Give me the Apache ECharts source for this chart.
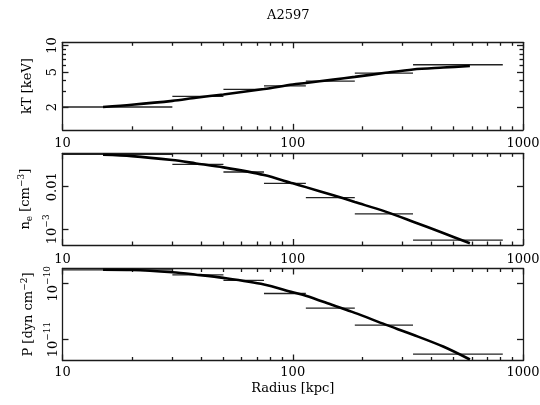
<!DOCTYPE html>
<html>
<head>
<meta charset="utf-8">
<script src="https://cdn.jsdelivr.net/npm/echarts@6/dist/echarts.min.js"></script>
<style>
html,body{margin:0;padding:0;background:#fff;}
#c{width:540px;height:405px;}
</style>
</head>
<body>
<div id="c"></div>
<script>
// ---- data ----
const titleText = 'A2597';
const binLo = [10, 30, 50, 75, 114, 186, 333];
const binHi = [30, 50, 75, 114, 186, 333, 817];
const kT = [2.0, 2.64, 3.18, 3.47, 3.95, 4.87, 6.05];
const ne = [0.0573, 0.0333, 0.0221, 0.0120, 0.00552, 0.00229, 0.00056];
const P = [1.77e-10, 1.44e-10, 1.15e-10, 6.67e-11, 3.66e-11, 1.82e-11, 5.5e-12];

const modelR  = [15, 20, 30, 38, 50, 75, 100, 114, 150, 186, 253, 333, 450, 588];
const modelKT = [2.0, 2.12, 2.35, 2.55, 2.78, 3.2, 3.6, 3.75, 4.1, 4.4, 4.9, 5.35, 5.62, 5.85];
const modelNe = [0.0562, 0.0523, 0.0422, 0.0352, 0.0284, 0.0188, 0.0120, 0.00977, 0.0063, 0.00437, 0.0026, 0.00151, 0.00082, 0.00047];
const modelP  = [1.78e-10, 1.76e-10, 1.60e-10, 1.45e-10, 1.27e-10, 9.7e-11, 7.0e-11, 6.1e-11, 4.1e-11, 3.0e-11, 1.85e-11, 1.22e-11, 7.5e-12, 4.4e-12];

const xMajor = [10, 100, 1000];
const xMinor = [20, 30, 40, 50, 60, 70, 80, 90, 200, 300, 400, 500, 600, 700, 800, 900];
const kTMajor = [2, 5, 10];
const kTMinor = [3, 4, 6, 7, 8, 9];
const neMajor = [0.001, 0.01];
const pMajor = [1e-11, 1e-10];
const xAxisTitle = 'Radius [kpc]';

// ---- layout / style ----
const FONT = 'DejaVu Serif';
const frameColor = '#1a1a1a';
const grids = [
  {left: 62.5, top: 42.3, width: 460.5, height: 87.5},
  {left: 62.5, top: 153.3, width: 460.5, height: 91.7},
  {left: 62.5, top: 268.5, width: 460.5, height: 92}
];
const yRanges = [[1.1, 10.9], [4.28e-4, 0.0608], [4.22e-12, 1.87e-10]];
const xLabelMargin = [7.5, 8, 6];
const yNameGap = [26, 23, 23];

const rich = {
  b: {fontFamily: FONT, fontSize: 13, color: '#000', lineHeight: 17, verticalAlign: 'bottom'},
  s: {fontFamily: FONT, fontSize: 9, color: '#000', lineHeight: 9, verticalAlign: 'top'}
};

function fmtY(v) {
  if (Math.abs(v - 0.01) < 1e-9) return '0.01';
  if (Math.abs(v - 0.001) < 1e-10) return '{b|10}{s|−3}';
  if (Math.abs(v / 1e-10 - 1) < 1e-6) return '{b|10}{s|−10}';
  if (Math.abs(v / 1e-11 - 1) < 1e-6) return '{b|10}{s|−11}';
  return String(v);
}

const xAxes = [], yAxes = [];
const lineStyle = {color: frameColor, width: 1.3};
function baseAxis(gi, pos, min, max) {
  return {type: 'log', logBase: 10, gridIndex: gi, position: pos, min: min, max: max,
    axisLine: {show: false, onZero: false, lineStyle: lineStyle},
    splitLine: {show: false}, axisLabel: {show: false}, axisTick: {show: false}};
}
const majorIdxX = [], majorIdxY = [];
for (let g = 0; g < 3; g++) {
  majorIdxX.push(xAxes.length);
  const xb = baseAxis(g, 'bottom', 10, 1000);
  xb.axisLine.show = true;
  xb.axisTick = {show: true, inside: true, length: 6, customValues: xMajor, lineStyle: lineStyle};
  xb.axisLabel = {show: true, customValues: xMajor, margin: xLabelMargin[g], formatter: v => String(v),
    fontFamily: FONT, fontSize: 13, color: '#000'};
  if (g === 2) {
    xb.name = xAxisTitle; xb.nameLocation = 'middle'; xb.nameGap = 22;
    xb.nameTextStyle = {fontFamily: FONT, fontSize: 13, color: '#000'};
  }
  xAxes.push(xb);
  const xbm = baseAxis(g, 'bottom', 10, 1000);
  xbm.axisTick = {show: true, inside: true, length: 3.5, customValues: xMinor, lineStyle: lineStyle};
  xAxes.push(xbm);
  const xt = baseAxis(g, 'top', 10, 1000);
  xt.axisLine.show = true;
  xt.axisTick = {show: true, inside: true, length: 6, customValues: xMajor, lineStyle: lineStyle};
  xAxes.push(xt);
  const xtm = baseAxis(g, 'top', 10, 1000);
  xtm.axisTick = {show: true, inside: true, length: 3.5, customValues: xMinor, lineStyle: lineStyle};
  xAxes.push(xtm);

  const yr = yRanges[g];
  const majors = g === 0 ? kTMajor : (g === 1 ? neMajor : pMajor);
  majorIdxY.push(yAxes.length);
  const yl = baseAxis(g, 'left', yr[0], yr[1]);
  yl.axisLine.show = true;
  yl.axisTick = {show: true, inside: true, length: 6, customValues: majors, lineStyle: lineStyle};
  yl.axisLabel = {show: true, customValues: majors, rotate: 90, margin: g === 2 ? 2 : 3, formatter: fmtY, rich: rich,
    fontFamily: FONT, fontSize: 13, color: '#000'};
  yl.nameLocation = 'middle';
  yl.nameRotate = 90;
  yl.nameGap = yNameGap[g];
  yl.nameTextStyle = {fontFamily: FONT, fontSize: 13, color: '#000', rich: {
    m: {fontFamily: FONT, fontSize: 13, color: '#000', lineHeight: 17, verticalAlign: 'middle'},
    sub: {fontFamily: FONT, fontSize: 9, color: '#000', lineHeight: 9, verticalAlign: 'bottom'},
    sup: {fontFamily: FONT, fontSize: 9, color: '#000', lineHeight: 9, verticalAlign: 'top'}
  }};
  yl.name = g === 0 ? '{m|kT [keV]}' : (g === 1 ? '{m|n}{sub|e}{m| [cm}{sup|−3}{m|]}' : '{m|P [dyn cm}{sup|−2}{m|]}');
  yAxes.push(yl);
  const yrt = baseAxis(g, 'right', yr[0], yr[1]);
  yrt.axisLine.show = true;
  yrt.axisTick = {show: true, inside: true, length: 6, customValues: majors, lineStyle: lineStyle};
  yAxes.push(yrt);
  if (g === 0) {
    const ylm = baseAxis(g, 'left', yr[0], yr[1]);
    ylm.axisTick = {show: true, inside: true, length: 3.5, customValues: kTMinor, lineStyle: lineStyle};
    yAxes.push(ylm);
    const yrm = baseAxis(g, 'right', yr[0], yr[1]);
    yrm.axisTick = {show: true, inside: true, length: 3.5, customValues: kTMinor, lineStyle: lineStyle};
    yAxes.push(yrm);
  }
}

const dataSets = [kT, ne, P];
const models = [modelKT, modelNe, modelP];
const series = [];
for (let g = 0; g < 3; g++) {
  series.push({
    type: 'custom',
    xAxisIndex: majorIdxX[g], yAxisIndex: majorIdxY[g],
    data: binLo.map((lo, i) => [lo, binHi[i], dataSets[g][i]]),
    encode: {x: [0, 1], y: 2},
    clip: true,
    silent: true,
    renderItem: function (params, api) {
      const p1 = api.coord([api.value(0), api.value(2)]);
      const p2 = api.coord([api.value(1), api.value(2)]);
      return {type: 'line', shape: {x1: p1[0], y1: p1[1], x2: p2[0], y2: p2[1]},
        style: {stroke: '#222', lineWidth: 1.3}};
    },
    z: 2
  });
  series.push({
    type: 'line',
    xAxisIndex: majorIdxX[g], yAxisIndex: majorIdxY[g],
    data: modelR.map((r, i) => [r, models[g][i]]),
    smooth: 0.3,
    showSymbol: false,
    symbol: 'none',
    lineStyle: {color: '#000', width: 2.6},
    silent: true,
    animation: false,
    z: 3
  });
}

const chart = echarts.init(document.getElementById('c'), null, {renderer: 'canvas'});
chart.setOption({
  animation: false,
  backgroundColor: '#fff',
  title: {text: titleText, left: 262, top: 4,
    textStyle: {fontFamily: FONT, fontSize: 13, fontWeight: 'normal', color: '#000'}},
  grid: grids.map(g => Object.assign({containLabel: false, outerBoundsMode: 'none'}, g)),
  xAxis: xAxes,
  yAxis: yAxes,
  series: series
});
</script>
</body>
</html>
